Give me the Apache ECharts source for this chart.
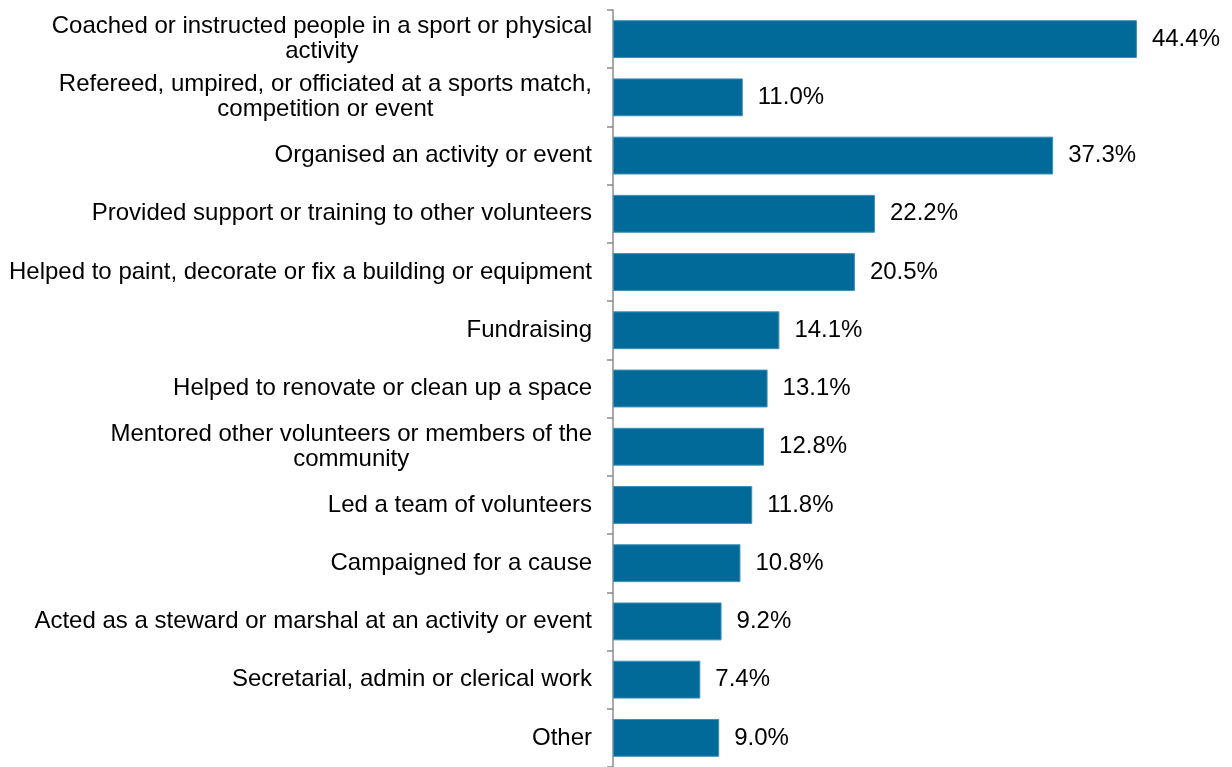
<!DOCTYPE html>
<html>
<head>
<meta charset="utf-8">
<script src="https://cdn.jsdelivr.net/npm/echarts@6/dist/echarts.min.js"></script>
<style>
  html, body { margin: 0; padding: 0; background: #fff; }
  #main { width: 1232px; height: 767px; }
</style>
</head>
<body>
<div id="main"></div>
<script>
  // categories (top to bottom)
  var activities = [
    'Coached or instructed people in a sport or physical\nactivity',
    'Refereed, umpired, or officiated at a sports match,\ncompetition or event',
    'Organised an activity or event',
    'Provided support or training to other volunteers',
    'Helped to paint, decorate or fix a building or equipment',
    'Fundraising',
    'Helped to renovate or clean up a space',
    'Mentored other volunteers or members of the\ncommunity',
    'Led a team of volunteers',
    'Campaigned for a cause',
    'Acted as a steward or marshal at an activity or event',
    'Secretarial, admin or clerical work',
    'Other'
  ];
  // percentage values
  var shares = [44.4, 11.0, 37.3, 22.2, 20.5, 14.1, 13.1, 12.8, 11.8, 10.8, 9.2, 7.4, 9.0];

  var chart = echarts.init(document.getElementById('main'));
  chart.setOption({
    animation: false,
    textStyle: { fontFamily: 'Liberation Sans, Arial, sans-serif' },
    grid: { left: 613, right: 29, top: 10, bottom: -2, containLabel: false },
    xAxis: {
      type: 'value',
      min: 0,
      max: 50,
      show: false
    },
    yAxis: {
      type: 'category',
      inverse: true,
      data: activities,
      axisLine: { show: true, lineStyle: { color: '#8c8c8c', width: 1.5 } },
      axisTick: { show: true, length: 6, lineStyle: { color: '#8c8c8c', width: 1.5 } },
      axisLabel: {
        margin: 21,
        fontSize: 24,
        color: '#000',
        lineHeight: 25,
        align: 'right',
        // wrapped labels: lines centred inside the right-aligned block
        formatter: function (v) {
          return v.split('\n').map(function (s) { return '{c|' + s + '}'; }).join('\n');
        },
        rich: {
          c: { align: 'center', fontSize: 24, lineHeight: 25, color: '#000' }
        }
      }
    },
    series: [{
      type: 'bar',
      data: shares,
      barWidth: '65%',
      itemStyle: { color: '#016a99', borderColor: '#3d8fb8', borderWidth: 1 },
      label: {
        show: true,
        position: 'right',
        distance: 15,
        fontSize: 24,
        color: '#000',
        formatter: function (p) { return p.value.toFixed(1) + '%'; }
      }
    }]
  });
</script>
</body>
</html>
